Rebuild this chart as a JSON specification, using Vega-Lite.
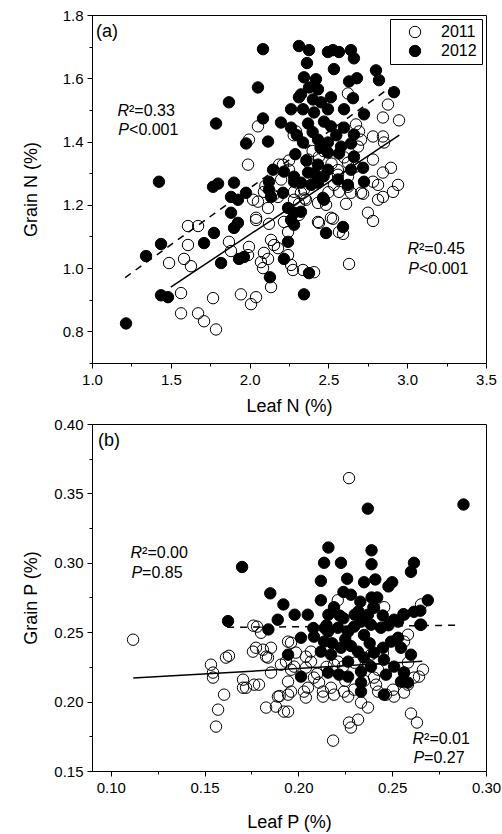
{
  "$schema": "https://vega.github.io/schema/vega-lite/v6.json",
  "background": "white",
  "padding": {"left": 21, "top": 7, "right": 5, "bottom": 5},
  "config": {
    "font": "Liberation Sans",
    "view": {"stroke": "black", "strokeWidth": 1},
    "axis": {
      "labelFont": "Liberation Sans", "labelFontSize": 15, "labelColor": "black",
      "titleFont": "Liberation Sans", "titleFontSize": 18, "titleFontWeight": "normal", "titleColor": "black",
      "domainColor": "black", "tickColor": "black", "grid": false, "labelPadding": 4,
      "labelFlush": false, "labelOverlap": false
    },
    "legend": {
      "labelFont": "Liberation Sans", "labelFontSize": 16, "labelColor": "black"
    }
  },
  "datasets": {
    "a_pts": [
      {"x":2.624,"y":1.552,"year":"2011"},{"x":2.878,"y":1.517,"year":"2011"},{"x":2.846,"y":1.476,"year":"2011"},{"x":2.948,"y":1.467,"year":"2011"},
      {"x":2.053,"y":1.448,"year":"2011"},{"x":1.996,"y":1.406,"year":"2011"},{"x":2.675,"y":1.454,"year":"2011"},{"x":2.694,"y":1.432,"year":"2011"},
      {"x":2.707,"y":1.406,"year":"2011"},{"x":2.783,"y":1.416,"year":"2011"},{"x":2.846,"y":1.416,"year":"2011"},{"x":2.853,"y":1.397,"year":"2011"},
      {"x":2.688,"y":1.384,"year":"2011"},{"x":2.662,"y":1.352,"year":"2011"},{"x":2.783,"y":1.343,"year":"2011"},{"x":2.371,"y":1.343,"year":"2011"},
      {"x":2.440,"y":1.352,"year":"2011"},{"x":1.990,"y":1.327,"year":"2011"},{"x":2.212,"y":1.327,"year":"2011"},{"x":2.846,"y":1.302,"year":"2011"},
      {"x":2.897,"y":1.317,"year":"2011"},{"x":2.561,"y":1.295,"year":"2011"},{"x":2.624,"y":1.289,"year":"2011"},{"x":2.783,"y":1.273,"year":"2011"},
      {"x":2.815,"y":1.263,"year":"2011"},{"x":2.942,"y":1.263,"year":"2011"},{"x":2.910,"y":1.241,"year":"2011"},{"x":2.846,"y":1.225,"year":"2011"},
      {"x":2.091,"y":1.241,"year":"2011"},{"x":2.282,"y":1.241,"year":"2011"},{"x":2.326,"y":1.238,"year":"2011"},{"x":2.567,"y":1.241,"year":"2011"},
      {"x":2.643,"y":1.238,"year":"2011"},{"x":2.707,"y":1.238,"year":"2011"},{"x":2.815,"y":1.216,"year":"2011"},{"x":2.751,"y":1.175,"year":"2011"},
      {"x":2.783,"y":1.149,"year":"2011"},{"x":2.720,"y":1.235,"year":"2011"},{"x":2.624,"y":1.257,"year":"2011"},{"x":2.535,"y":1.263,"year":"2011"},
      {"x":2.612,"y":1.203,"year":"2011"},{"x":2.529,"y":1.156,"year":"2011"},{"x":2.567,"y":1.114,"year":"2011"},{"x":2.593,"y":1.108,"year":"2011"},
      {"x":2.631,"y":1.013,"year":"2011"},{"x":2.434,"y":1.206,"year":"2011"},{"x":2.485,"y":1.200,"year":"2011"},{"x":2.434,"y":1.146,"year":"2011"},
      {"x":2.358,"y":1.216,"year":"2011"},{"x":2.345,"y":1.248,"year":"2011"},{"x":2.053,"y":1.210,"year":"2011"},{"x":2.022,"y":1.216,"year":"2011"},
      {"x":2.117,"y":1.190,"year":"2011"},{"x":2.041,"y":1.152,"year":"2011"},{"x":2.123,"y":1.140,"year":"2011"},{"x":2.218,"y":1.146,"year":"2011"},
      {"x":2.244,"y":1.114,"year":"2011"},{"x":2.136,"y":1.089,"year":"2011"},{"x":2.155,"y":1.073,"year":"2011"},{"x":2.180,"y":1.063,"year":"2011"},
      {"x":2.091,"y":1.048,"year":"2011"},{"x":2.117,"y":1.029,"year":"2011"},{"x":2.072,"y":1.019,"year":"2011"},{"x":2.085,"y":1.000,"year":"2011"},
      {"x":2.244,"y":1.041,"year":"2011"},{"x":2.263,"y":1.010,"year":"2011"},{"x":2.275,"y":0.994,"year":"2011"},{"x":2.339,"y":0.994,"year":"2011"},
      {"x":2.409,"y":0.987,"year":"2011"},{"x":1.996,"y":1.067,"year":"2011"},{"x":1.990,"y":1.041,"year":"2011"},{"x":1.869,"y":1.083,"year":"2011"},
      {"x":1.882,"y":1.054,"year":"2011"},{"x":1.945,"y":0.917,"year":"2011"},{"x":2.041,"y":0.908,"year":"2011"},{"x":2.009,"y":0.886,"year":"2011"},
      {"x":2.136,"y":0.940,"year":"2011"},{"x":1.768,"y":0.905,"year":"2011"},{"x":1.565,"y":0.921,"year":"2011"},{"x":1.565,"y":0.857,"year":"2011"},
      {"x":1.673,"y":0.857,"year":"2011"},{"x":1.711,"y":0.832,"year":"2011"},{"x":1.787,"y":0.806,"year":"2011"},{"x":1.489,"y":1.016,"year":"2011"},
      {"x":1.584,"y":1.029,"year":"2011"},{"x":1.628,"y":1.006,"year":"2011"},{"x":1.609,"y":1.073,"year":"2011"},{"x":1.609,"y":1.133,"year":"2011"},
      {"x":1.673,"y":1.133,"year":"2011"},{"x":2.180,"y":1.225,"year":"2011"},{"x":2.282,"y":1.216,"year":"2011"},{"x":2.313,"y":1.203,"year":"2011"},
      {"x":2.041,"y":1.159,"year":"2011"},{"x":2.280,"y":1.420,"year":"2011"},{"x":2.294,"y":1.432,"year":"2011"},{"x":2.187,"y":1.327,"year":"2011"},
      {"x":2.250,"y":1.311,"year":"2011"},{"x":2.624,"y":1.333,"year":"2011"},{"x":2.675,"y":1.321,"year":"2011"},{"x":2.516,"y":1.159,"year":"2011"},
      {"x":2.440,"y":1.143,"year":"2011"},{"x":2.313,"y":1.168,"year":"2011"},{"x":2.10,"y":1.26,"year":"2011"},{"x":2.15,"y":1.23,"year":"2011"},
      {"x":2.20,"y":1.28,"year":"2011"},{"x":2.25,"y":1.34,"year":"2011"},{"x":2.30,"y":1.27,"year":"2011"},{"x":2.38,"y":1.33,"year":"2011"},
      {"x":2.42,"y":1.29,"year":"2011"},{"x":2.50,"y":1.24,"year":"2011"},{"x":2.52,"y":1.33,"year":"2011"},{"x":2.35,"y":1.22,"year":"2011"},
      {"x":2.56,"y":1.31,"year":"2011"},{"x":2.60,"y":1.35,"year":"2011"},{"x":2.47,"y":1.37,"year":"2011"},{"x":2.40,"y":1.37,"year":"2011"},
      {"x":2.085,"y":1.692,"year":"2012"},{"x":2.313,"y":1.702,"year":"2012"},{"x":2.377,"y":1.689,"year":"2012"},{"x":2.497,"y":1.683,"year":"2012"},
      {"x":2.529,"y":1.689,"year":"2012"},{"x":2.567,"y":1.683,"year":"2012"},{"x":2.643,"y":1.689,"year":"2012"},{"x":2.662,"y":1.663,"year":"2012"},
      {"x":2.364,"y":1.648,"year":"2012"},{"x":2.535,"y":1.629,"year":"2012"},{"x":2.345,"y":1.603,"year":"2012"},{"x":2.421,"y":1.597,"year":"2012"},
      {"x":2.377,"y":1.571,"year":"2012"},{"x":2.434,"y":1.565,"year":"2012"},{"x":2.631,"y":1.590,"year":"2012"},{"x":2.681,"y":1.600,"year":"2012"},
      {"x":2.802,"y":1.625,"year":"2012"},{"x":2.821,"y":1.594,"year":"2012"},{"x":2.916,"y":1.556,"year":"2012"},{"x":2.053,"y":1.571,"year":"2012"},
      {"x":1.869,"y":1.524,"year":"2012"},{"x":1.787,"y":1.457,"year":"2012"},{"x":2.085,"y":1.473,"year":"2012"},{"x":1.978,"y":1.394,"year":"2012"},
      {"x":2.117,"y":1.400,"year":"2012"},{"x":2.313,"y":1.540,"year":"2012"},{"x":2.402,"y":1.533,"year":"2012"},{"x":2.516,"y":1.540,"year":"2012"},
      {"x":2.453,"y":1.524,"year":"2012"},{"x":2.263,"y":1.502,"year":"2012"},{"x":2.339,"y":1.502,"year":"2012"},{"x":2.409,"y":1.492,"year":"2012"},
      {"x":2.497,"y":1.502,"year":"2012"},{"x":2.599,"y":1.502,"year":"2012"},{"x":2.656,"y":1.537,"year":"2012"},{"x":2.726,"y":1.486,"year":"2012"},
      {"x":2.199,"y":1.460,"year":"2012"},{"x":2.263,"y":1.444,"year":"2012"},{"x":2.371,"y":1.457,"year":"2012"},{"x":2.472,"y":1.463,"year":"2012"},
      {"x":2.516,"y":1.448,"year":"2012"},{"x":2.599,"y":1.444,"year":"2012"},{"x":2.662,"y":1.422,"year":"2012"},{"x":2.339,"y":1.397,"year":"2012"},
      {"x":2.434,"y":1.406,"year":"2012"},{"x":2.497,"y":1.397,"year":"2012"},{"x":2.580,"y":1.384,"year":"2012"},{"x":2.643,"y":1.394,"year":"2012"},
      {"x":2.497,"y":1.365,"year":"2012"},{"x":2.567,"y":1.362,"year":"2012"},{"x":2.662,"y":1.352,"year":"2012"},{"x":2.149,"y":1.311,"year":"2012"},
      {"x":2.218,"y":1.305,"year":"2012"},{"x":2.282,"y":1.289,"year":"2012"},{"x":2.371,"y":1.302,"year":"2012"},{"x":2.434,"y":1.327,"year":"2012"},
      {"x":2.497,"y":1.311,"year":"2012"},{"x":2.643,"y":1.311,"year":"2012"},{"x":2.720,"y":1.317,"year":"2012"},{"x":1.425,"y":1.273,"year":"2012"},
      {"x":1.768,"y":1.257,"year":"2012"},{"x":1.800,"y":1.267,"year":"2012"},{"x":1.901,"y":1.270,"year":"2012"},{"x":1.977,"y":1.238,"year":"2012"},
      {"x":1.882,"y":1.225,"year":"2012"},{"x":2.123,"y":1.273,"year":"2012"},{"x":2.123,"y":1.248,"year":"2012"},{"x":2.212,"y":1.238,"year":"2012"},
      {"x":2.282,"y":1.273,"year":"2012"},{"x":2.326,"y":1.270,"year":"2012"},{"x":2.390,"y":1.263,"year":"2012"},{"x":2.434,"y":1.270,"year":"2012"},
      {"x":2.466,"y":1.222,"year":"2012"},{"x":2.624,"y":1.263,"year":"2012"},{"x":2.726,"y":1.273,"year":"2012"},{"x":1.926,"y":1.216,"year":"2012"},
      {"x":2.136,"y":1.225,"year":"2012"},{"x":1.882,"y":1.175,"year":"2012"},{"x":1.926,"y":1.143,"year":"2012"},{"x":1.901,"y":1.127,"year":"2012"},
      {"x":1.774,"y":1.111,"year":"2012"},{"x":1.711,"y":1.079,"year":"2012"},{"x":1.438,"y":1.076,"year":"2012"},{"x":1.343,"y":1.038,"year":"2012"},
      {"x":1.819,"y":1.016,"year":"2012"},{"x":1.933,"y":1.029,"year":"2012"},{"x":1.964,"y":1.035,"year":"2012"},{"x":1.438,"y":0.914,"year":"2012"},
      {"x":1.482,"y":0.908,"year":"2012"},{"x":1.216,"y":0.825,"year":"2012"},{"x":2.244,"y":1.190,"year":"2012"},{"x":2.282,"y":1.175,"year":"2012"},
      {"x":2.326,"y":1.178,"year":"2012"},{"x":2.263,"y":1.152,"year":"2012"},{"x":2.282,"y":1.137,"year":"2012"},{"x":2.244,"y":1.083,"year":"2012"},
      {"x":2.218,"y":1.029,"year":"2012"},{"x":2.472,"y":1.216,"year":"2012"},{"x":2.485,"y":1.111,"year":"2012"},{"x":2.593,"y":1.130,"year":"2012"},
      {"x":2.129,"y":0.971,"year":"2012"},{"x":2.377,"y":0.984,"year":"2012"},{"x":2.345,"y":0.917,"year":"2012"},{"x":2.326,"y":1.549,"year":"2012"},
      {"x":2.30,"y":1.42,"year":"2012"},{"x":2.40,"y":1.43,"year":"2012"},{"x":2.45,"y":1.38,"year":"2012"},{"x":2.55,"y":1.42,"year":"2012"},
      {"x":2.29,"y":1.36,"year":"2012"},{"x":2.36,"y":1.34,"year":"2012"},{"x":2.41,"y":1.30,"year":"2012"},{"x":2.47,"y":1.29,"year":"2012"},
      {"x":2.56,"y":1.28,"year":"2012"}
    ],
    "a_lines": [
      {"x":1.50,"y":0.94,"fit":"2011"},{"x":2.95,"y":1.42,"fit":"2011"},
      {"x":1.21,"y":0.97,"fit":"2012"},{"x":2.89,"y":1.57,"fit":"2012"}
    ],
    "a_text": [
      {"x":1.235,"y":1.495,"a":"R","b":"²=0.33"},
      {"x":1.235,"y":1.438,"a":"P","b":"<0.001"},
      {"x":3.075,"y":1.060,"a":"R","b":"²=0.45"},
      {"x":3.075,"y":0.997,"a":"P","b":"<0.001"}
    ],
    "a_label": [{"x":1.025,"y":1.746,"t":"(a)"}],
    "b_pts": [
      {"x":0.227,"y":0.361,"year":"2011"},{"x":0.221,"y":0.273,"year":"2011"},{"x":0.2457,"y":0.268,"year":"2011"},{"x":0.2654,"y":0.270,"year":"2011"},
      {"x":0.176,"y":0.2547,"year":"2011"},{"x":0.178,"y":0.254,"year":"2011"},{"x":0.1119,"y":0.2446,"year":"2011"},{"x":0.1534,"y":0.2266,"year":"2011"},
      {"x":0.1545,"y":0.2209,"year":"2011"},{"x":0.1545,"y":0.2173,"year":"2011"},{"x":0.1604,"y":0.205,"year":"2011"},{"x":0.1572,"y":0.1942,"year":"2011"},
      {"x":0.1561,"y":0.182,"year":"2011"},{"x":0.1614,"y":0.2317,"year":"2011"},{"x":0.163,"y":0.233,"year":"2011"},{"x":0.1705,"y":0.2158,"year":"2011"},
      {"x":0.1705,"y":0.210,"year":"2011"},{"x":0.1721,"y":0.210,"year":"2011"},{"x":0.1764,"y":0.2122,"year":"2011"},{"x":0.1790,"y":0.2122,"year":"2011"},
      {"x":0.1758,"y":0.236,"year":"2011"},{"x":0.1774,"y":0.2388,"year":"2011"},{"x":0.1854,"y":0.2388,"year":"2011"},{"x":0.1838,"y":0.2317,"year":"2011"},
      {"x":0.1801,"y":0.2496,"year":"2011"},{"x":0.1854,"y":0.2209,"year":"2011"},{"x":0.1828,"y":0.1957,"year":"2011"},{"x":0.1891,"y":0.2036,"year":"2011"},
      {"x":0.190,"y":0.204,"year":"2011"},{"x":0.1945,"y":0.205,"year":"2011"},{"x":0.1961,"y":0.2072,"year":"2011"},{"x":0.1923,"y":0.1928,"year":"2011"},
      {"x":0.1945,"y":0.1928,"year":"2011"},{"x":0.1907,"y":0.2266,"year":"2011"},{"x":0.1934,"y":0.2288,"year":"2011"},{"x":0.1961,"y":0.223,"year":"2011"},
      {"x":0.1977,"y":0.2252,"year":"2011"},{"x":0.1945,"y":0.2144,"year":"2011"},{"x":0.1945,"y":0.2432,"year":"2011"},{"x":0.1961,"y":0.2424,"year":"2011"},
      {"x":0.1987,"y":0.2353,"year":"2011"},{"x":0.203,"y":0.2072,"year":"2011"},{"x":0.204,"y":0.2029,"year":"2011"},{"x":0.2051,"y":0.210,"year":"2011"},
      {"x":0.204,"y":0.2245,"year":"2011"},{"x":0.2067,"y":0.2288,"year":"2011"},{"x":0.2083,"y":0.2173,"year":"2011"},{"x":0.211,"y":0.2137,"year":"2011"},
      {"x":0.2131,"y":0.2072,"year":"2011"},{"x":0.2131,"y":0.2036,"year":"2011"},{"x":0.2174,"y":0.210,"year":"2011"},{"x":0.219,"y":0.205,"year":"2011"},
      {"x":0.2243,"y":0.2072,"year":"2011"},{"x":0.2265,"y":0.2036,"year":"2011"},{"x":0.2297,"y":0.2086,"year":"2011"},{"x":0.2334,"y":0.1993,"year":"2011"},
      {"x":0.2371,"y":0.1957,"year":"2011"},{"x":0.2318,"y":0.187,"year":"2011"},{"x":0.227,"y":0.1849,"year":"2011"},{"x":0.228,"y":0.1813,"year":"2011"},
      {"x":0.2185,"y":0.1719,"year":"2011"},{"x":0.2403,"y":0.2173,"year":"2011"},{"x":0.2425,"y":0.2072,"year":"2011"},{"x":0.2414,"y":0.2122,"year":"2011"},
      {"x":0.2467,"y":0.205,"year":"2011"},{"x":0.2504,"y":0.2086,"year":"2011"},{"x":0.251,"y":0.2036,"year":"2011"},{"x":0.2563,"y":0.2065,"year":"2011"},
      {"x":0.2584,"y":0.2122,"year":"2011"},{"x":0.2563,"y":0.2209,"year":"2011"},{"x":0.2584,"y":0.2281,"year":"2011"},{"x":0.2643,"y":0.218,"year":"2011"},
      {"x":0.2664,"y":0.223,"year":"2011"},{"x":0.2616,"y":0.2173,"year":"2011"},{"x":0.26,"y":0.1914,"year":"2011"},{"x":0.2632,"y":0.1849,"year":"2011"},
      {"x":0.2563,"y":0.2432,"year":"2011"},{"x":0.2584,"y":0.2482,"year":"2011"},{"x":0.2387,"y":0.2338,"year":"2011"},{"x":0.2371,"y":0.2266,"year":"2011"},
      {"x":0.2425,"y":0.223,"year":"2011"},{"x":0.219,"y":0.2266,"year":"2011"},{"x":0.2211,"y":0.2288,"year":"2011"},{"x":0.2238,"y":0.2252,"year":"2011"},
      {"x":0.204,"y":0.2324,"year":"2011"},{"x":0.2067,"y":0.236,"year":"2011"},{"x":0.1811,"y":0.2374,"year":"2011"},{"x":0.1828,"y":0.2324,"year":"2011"},
      {"x":0.188,"y":0.1964,"year":"2011"},{"x":0.215,"y":0.225,"year":"2011"},{"x":0.225,"y":0.215,"year":"2011"},{"x":0.235,"y":0.215,"year":"2011"},
      {"x":0.245,"y":0.235,"year":"2011"},{"x":0.23,"y":0.228,"year":"2011"},{"x":0.21,"y":0.22,"year":"2011"},
      {"x":0.237,"y":0.339,"year":"2012"},{"x":0.288,"y":0.342,"year":"2012"},{"x":0.216,"y":0.311,"year":"2012"},{"x":0.239,"y":0.309,"year":"2012"},
      {"x":0.170,"y":0.297,"year":"2012"},{"x":0.2137,"y":0.300,"year":"2012"},{"x":0.2227,"y":0.300,"year":"2012"},{"x":0.239,"y":0.299,"year":"2012"},
      {"x":0.2616,"y":0.300,"year":"2012"},{"x":0.260,"y":0.2935,"year":"2012"},{"x":0.212,"y":0.287,"year":"2012"},{"x":0.226,"y":0.2885,"year":"2012"},
      {"x":0.235,"y":0.286,"year":"2012"},{"x":0.241,"y":0.288,"year":"2012"},{"x":0.248,"y":0.283,"year":"2012"},{"x":0.250,"y":0.286,"year":"2012"},
      {"x":0.185,"y":0.278,"year":"2012"},{"x":0.212,"y":0.273,"year":"2012"},{"x":0.224,"y":0.279,"year":"2012"},{"x":0.228,"y":0.277,"year":"2012"},
      {"x":0.233,"y":0.272,"year":"2012"},{"x":0.239,"y":0.275,"year":"2012"},{"x":0.242,"y":0.275,"year":"2012"},{"x":0.240,"y":0.268,"year":"2012"},
      {"x":0.269,"y":0.273,"year":"2012"},{"x":0.265,"y":0.2655,"year":"2012"},{"x":0.192,"y":0.270,"year":"2012"},{"x":0.198,"y":0.2626,"year":"2012"},
      {"x":0.205,"y":0.2626,"year":"2012"},{"x":0.189,"y":0.259,"year":"2012"},{"x":0.184,"y":0.252,"year":"2012"},{"x":0.1625,"y":0.258,"year":"2012"},
      {"x":0.219,"y":0.268,"year":"2012"},{"x":0.216,"y":0.2626,"year":"2012"},{"x":0.224,"y":0.260,"year":"2012"},{"x":0.230,"y":0.2626,"year":"2012"},
      {"x":0.234,"y":0.259,"year":"2012"},{"x":0.251,"y":0.259,"year":"2012"},{"x":0.256,"y":0.263,"year":"2012"},{"x":0.265,"y":0.2554,"year":"2012"},
      {"x":0.208,"y":0.253,"year":"2012"},{"x":0.214,"y":0.253,"year":"2012"},{"x":0.2014,"y":0.246,"year":"2012"},{"x":0.2083,"y":0.2468,"year":"2012"},
      {"x":0.2137,"y":0.2432,"year":"2012"},{"x":0.2158,"y":0.2504,"year":"2012"},{"x":0.2211,"y":0.2532,"year":"2012"},{"x":0.2265,"y":0.2504,"year":"2012"},
      {"x":0.2297,"y":0.254,"year":"2012"},{"x":0.2334,"y":0.2576,"year":"2012"},{"x":0.2387,"y":0.2554,"year":"2012"},{"x":0.2440,"y":0.2532,"year":"2012"},
      {"x":0.2371,"y":0.2626,"year":"2012"},{"x":0.2403,"y":0.2676,"year":"2012"},{"x":0.212,"y":0.236,"year":"2012"},{"x":0.2174,"y":0.2338,"year":"2012"},
      {"x":0.2227,"y":0.2388,"year":"2012"},{"x":0.2265,"y":0.2288,"year":"2012"},{"x":0.2318,"y":0.236,"year":"2012"},{"x":0.235,"y":0.2317,"year":"2012"},
      {"x":0.2403,"y":0.2353,"year":"2012"},{"x":0.2451,"y":0.2388,"year":"2012"},{"x":0.2494,"y":0.2432,"year":"2012"},{"x":0.2531,"y":0.246,"year":"2012"},
      {"x":0.1945,"y":0.2338,"year":"2012"},{"x":0.2014,"y":0.218,"year":"2012"},{"x":0.2158,"y":0.2209,"year":"2012"},{"x":0.2217,"y":0.2194,"year":"2012"},
      {"x":0.2265,"y":0.218,"year":"2012"},{"x":0.2334,"y":0.2216,"year":"2012"},{"x":0.2387,"y":0.2252,"year":"2012"},{"x":0.2456,"y":0.2302,"year":"2012"},
      {"x":0.2467,"y":0.2194,"year":"2012"},{"x":0.2334,"y":0.2137,"year":"2012"},{"x":0.2334,"y":0.2072,"year":"2012"},{"x":0.2456,"y":0.205,"year":"2012"},
      {"x":0.251,"y":0.2252,"year":"2012"},{"x":0.2563,"y":0.2209,"year":"2012"},{"x":0.2584,"y":0.2137,"year":"2012"},{"x":0.2547,"y":0.2144,"year":"2012"},
      {"x":0.260,"y":0.2338,"year":"2012"},{"x":0.2547,"y":0.2388,"year":"2012"},{"x":0.2531,"y":0.2576,"year":"2012"},{"x":0.2563,"y":0.2626,"year":"2012"},
      {"x":0.2616,"y":0.2647,"year":"2012"},{"x":0.2654,"y":0.2554,"year":"2012"},{"x":0.215,"y":0.255,"year":"2012"},{"x":0.225,"y":0.245,"year":"2012"},
      {"x":0.235,"y":0.248,"year":"2012"},{"x":0.222,"y":0.262,"year":"2012"},{"x":0.232,"y":0.265,"year":"2012"},{"x":0.245,"y":0.262,"year":"2012"},
      {"x":0.228,"y":0.240,"year":"2012"},{"x":0.238,"y":0.242,"year":"2012"},{"x":0.218,"y":0.242,"year":"2012"},{"x":0.248,"y":0.255,"year":"2012"}
    ],
    "b_lines": [
      {"x":0.112,"y":0.217,"fit":"2011"},{"x":0.266,"y":0.229,"fit":"2011"},
      {"x":0.162,"y":0.2535,"fit":"2012"},{"x":0.286,"y":0.255,"fit":"2012"}
    ],
    "b_text": [
      {"x":0.1167,"y":0.3068,"a":"R","b":"²=0.00"},
      {"x":0.1167,"y":0.2924,"a":"P","b":"=0.85"},
      {"x":0.267,"y":0.1734,"a":"R","b":"²=0.01"},
      {"x":0.267,"y":0.1597,"a":"P","b":"=0.27"}
    ],
    "b_label": [{"x":0.0932,"y":0.388,"t":"(b)"}]
  },
  "vconcat": [
    {
      "width": 394,
      "height": 348,
      "encoding": {
        "x": {"field": "x", "type": "quantitative",
          "scale": {"domain": [1.0, 3.5], "nice": false, "zero": false},
          "axis": {"title": "Leaf N (%)", "values": [1,1.25,1.5,1.75,2,2.25,2.5,2.75,3,3.25,3.5],
            "labelExpr": "abs(datum.value*2 - round(datum.value*2)) < 0.01 ? format(datum.value,'.1f') : ''",
            "tickSize": {"condition": {"test": "abs(datum.value*2 - round(datum.value*2)) < 0.01", "value": 5}, "value": 3},
            "labelPadding": 4, "titlePadding": 10}},
        "y": {"field": "y", "type": "quantitative",
          "scale": {"domain": [0.7, 1.8], "nice": false, "zero": false},
          "axis": {"title": "Grain N (%)", "values": [0.7,0.8,0.9,1,1.1,1.2,1.3,1.4,1.5,1.6,1.7,1.8],
            "labelExpr": "abs(datum.value*5 - round(datum.value*5)) < 0.01 ? format(datum.value,'.1f') : ''",
            "tickSize": {"condition": {"test": "abs(datum.value*5 - round(datum.value*5)) < 0.01", "value": 5}, "value": 3},
            "titleX": -52}}
      },
      "layer": [
        {
          "data": {"name": "a_lines"},
          "transform": [{"filter": "datum.fit == '2011'"}],
          "mark": {"type": "line", "color": "black", "strokeWidth": 1.5},
          "encoding": {}
        },
        {
          "data": {"name": "a_lines"},
          "transform": [{"filter": "datum.fit == '2012'"}],
          "mark": {"type": "line", "color": "black", "strokeWidth": 1.5, "strokeDash": [7, 6]},
          "encoding": {}
        },
        {
          "data": {"name": "a_pts"},
          "mark": {"type": "point", "shape": "circle", "filled": true, "stroke": "black", "strokeWidth": 1, "size": 130, "opacity": 1},
          "encoding": {
            "fill": {"field": "year", "type": "nominal",
              "scale": {"domain": ["2011","2012"], "range": ["transparent","black"]},
              "legend": {"title": null, "orient": "top-right", "offset": 4, "strokeColor": "black", "fillColor": "white",
                "padding": 5, "symbolOffset": 12, "labelOffset": 18, "symbolSize": 130, "symbolStrokeColor": "black",
                "symbolStrokeWidth": 1, "rowPadding": 3, "labelFontSize": 16}}
          }
        },
        {
          "data": {"name": "a_text"},
          "mark": {"type": "text", "align": "right", "baseline": "middle", "fontStyle": "italic", "fontSize": 16, "font": "Liberation Sans", "color": "black"},
          "encoding": {"text": {"field": "a"}}
        },
        {
          "data": {"name": "a_text"},
          "mark": {"type": "text", "align": "left", "baseline": "middle", "fontSize": 16, "font": "Liberation Sans", "color": "black"},
          "encoding": {"text": {"field": "b"}}
        },
        {
          "data": {"name": "a_label"},
          "mark": {"type": "text", "align": "left", "baseline": "middle", "fontSize": 18, "font": "Liberation Sans", "color": "black"},
          "encoding": {"text": {"field": "t"}}
        }
      ]
    },
    {
      "width": 394,
      "height": 347,
      "encoding": {
        "x": {"field": "x", "type": "quantitative",
          "scale": {"domain": [0.09, 0.30], "nice": false, "zero": false},
          "axis": {"title": "Leaf P (%)", "values": [0.1,0.125,0.15,0.175,0.2,0.225,0.25,0.275,0.3],
            "labelExpr": "abs(datum.value*20 - round(datum.value*20)) < 0.01 ? format(datum.value,'.2f') : ''",
            "tickSize": {"condition": {"test": "abs(datum.value*20 - round(datum.value*20)) < 0.01", "value": 5}, "value": 3},
            "labelPadding": 4, "titlePadding": 18}},
        "y": {"field": "y", "type": "quantitative",
          "scale": {"domain": [0.15, 0.40], "nice": false, "zero": false},
          "axis": {"title": "Grain P (%)", "values": [0.15,0.175,0.2,0.225,0.25,0.275,0.3,0.325,0.35,0.375,0.4],
            "labelExpr": "abs(datum.value*20 - round(datum.value*20)) < 0.01 ? format(datum.value,'.2f') : ''",
            "tickSize": {"condition": {"test": "abs(datum.value*20 - round(datum.value*20)) < 0.01", "value": 5}, "value": 3},
            "titleX": -52}}
      },
      "layer": [
        {
          "data": {"name": "b_lines"},
          "transform": [{"filter": "datum.fit == '2011'"}],
          "mark": {"type": "line", "color": "black", "strokeWidth": 1.5},
          "encoding": {}
        },
        {
          "data": {"name": "b_lines"},
          "transform": [{"filter": "datum.fit == '2012'"}],
          "mark": {"type": "line", "color": "black", "strokeWidth": 1.5, "strokeDash": [7, 6]},
          "encoding": {}
        },
        {
          "data": {"name": "b_pts"},
          "mark": {"type": "point", "shape": "circle", "filled": true, "stroke": "black", "strokeWidth": 1, "size": 130, "opacity": 1},
          "encoding": {
            "fill": {"field": "year", "type": "nominal",
              "scale": {"domain": ["2011","2012"], "range": ["transparent","black"]},
              "legend": null}
          }
        },
        {
          "data": {"name": "b_text"},
          "mark": {"type": "text", "align": "right", "baseline": "middle", "fontStyle": "italic", "fontSize": 16, "font": "Liberation Sans", "color": "black"},
          "encoding": {"text": {"field": "a"}}
        },
        {
          "data": {"name": "b_text"},
          "mark": {"type": "text", "align": "left", "baseline": "middle", "fontSize": 16, "font": "Liberation Sans", "color": "black"},
          "encoding": {"text": {"field": "b"}}
        },
        {
          "data": {"name": "b_label"},
          "mark": {"type": "text", "align": "left", "baseline": "middle", "fontSize": 18, "font": "Liberation Sans", "color": "black"},
          "encoding": {"text": {"field": "t"}}
        }
      ]
    }
  ],
  "spacing": 0,
  "resolve": {"scale": {"x": "independent", "y": "independent", "fill": "independent"}, "legend": {"fill": "independent"}}
}
